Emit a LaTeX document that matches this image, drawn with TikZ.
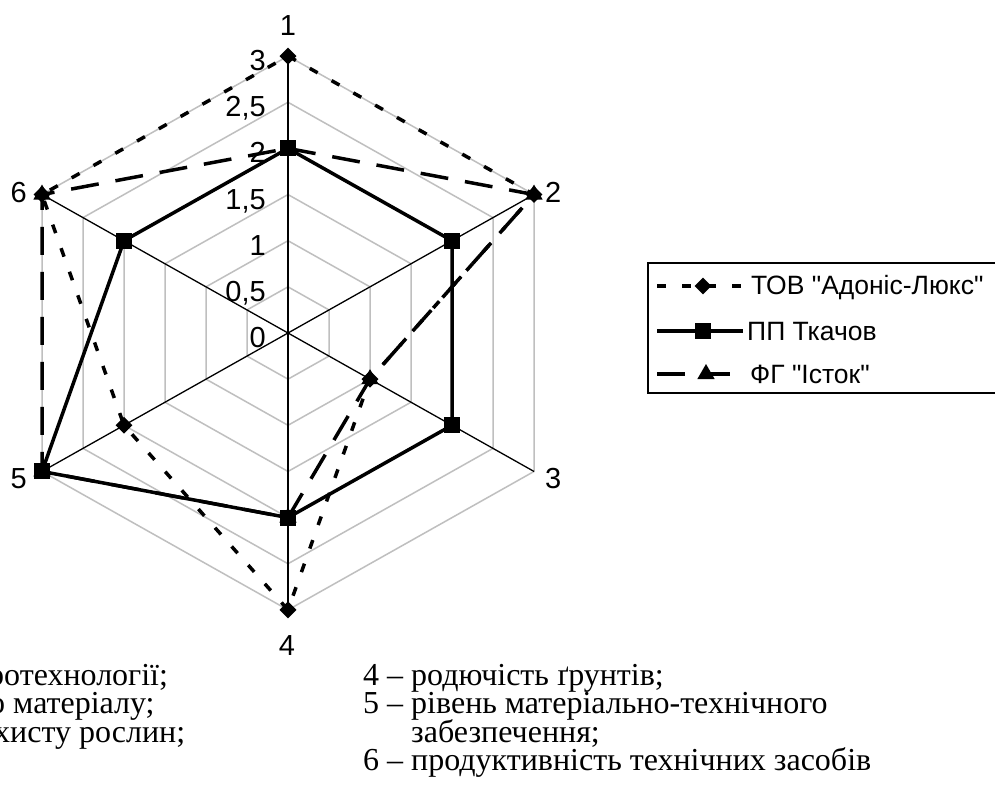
\documentclass[tikz,border=0pt]{standalone}
\usepackage{fontspec}
\setmainfont{Liberation Serif}
\newfontfamily\arialf{Liberation Sans}
\usetikzlibrary{shapes.geometric,calc}
\begin{document}
\begin{tikzpicture}[x=1pt,y=-1pt,
  gridline/.style={draw=black!25, line width=1.5pt},
  axisline/.style={draw=black, line width=1.3pt},
  serA/.style={line width=3.5pt, dash pattern=on 9pt off 16pt},
  serB/.style={line width=3.5pt},
  serC/.style={line width=3.5pt, dash pattern=on 28pt off 17pt},
  mkA/.style={diamond, fill=black, inner sep=0pt, minimum width=17pt, minimum height=17pt},
  mkB/.style={rectangle, fill=black, inner sep=0pt, minimum size=16pt},
  mkC/.style={regular polygon, regular polygon sides=3, fill=black, inner sep=0pt, minimum size=20pt},
  axlab/.style={font=\arialf\fontsize{29}{34}\selectfont, inner sep=0pt},
  vallab/.style={font=\arialf\fontsize{29}{34}\selectfont, inner sep=0pt, anchor=base east},
  leglab/.style={font=\arialf\fontsize{26.5}{30}\selectfont, inner sep=0pt, anchor=base west},
  note/.style={font=\fontsize{32}{30}\selectfont, inner sep=0pt, anchor=base west,
    text height=20pt, text depth=6pt},
]
\useasboundingbox (0,0) rectangle (995,798);
\fill[white] (0,0) rectangle (995,798);

% centre and unit vectors (per unit of value)
\coordinate (O) at (288,333);
\coordinate (u1) at (0,-92.3);
\coordinate (u2) at (82,-46.15);
\coordinate (u3) at (82,46.15);
\coordinate (u4) at (0,92.3);
\coordinate (u5) at (-82,46.15);
\coordinate (u6) at (-82,-46.15);

% grid rings
\foreach \v in {0.5,1,...,3}{
  \draw[gridline] ($(O)+\v*(u1)$) -- ($(O)+\v*(u2)$) -- ($(O)+\v*(u3)$)
    -- ($(O)+\v*(u4)$) -- ($(O)+\v*(u5)$) -- ($(O)+\v*(u6)$) -- cycle;
}

% axis ends and axes
\foreach \k in {1,...,6}{
  \coordinate (E\k) at ($(O)+3*(u\k)$);
  \draw[axisline] (O) -- (E\k);
}

% data points
\foreach \k/\a/\b/\c in {1/3/2/2, 2/3/2/3, 3/1/2/1, 4/3/2/2, 5/2/3/3, 6/3/2/3}{
  \coordinate (A\k) at ($(O)+\a*(u\k)$);
  \coordinate (B\k) at ($(O)+\b*(u\k)$);
  \coordinate (C\k) at ($(O)+\c*(u\k)$);
}

% series lines
\draw[serA] (A1) -- (A2) -- (A3) -- (A4) -- (A5) -- (A6) -- cycle;
\draw[serB] (B1) -- (B2) -- (B3) -- (B4) -- (B5) -- (B6) -- cycle;
\draw[serC] (C1) -- (C2) -- (C3) -- (C4) -- (C5) -- (C6) -- cycle;

% markers
\foreach \k in {1,...,6}{
  \node[mkA] (mA\k) at (A\k) {};
}
\foreach \k in {1,...,6}{
  \node[mkB] (mB\k) at (B\k) {};
}
\foreach \k in {1,...,6}{
  \node[mkC] (mC\k) at (C\k) {};
}

% value labels
\node[vallab] (v0) at (266,347.4) {0};
\node[vallab] (v05) at (266,301.2) {0,5};
\node[vallab] (v10) at (266,255.1) {1};
\node[vallab] (v15) at (266,209) {1,5};
\node[vallab] (v20) at (266,162.8) {2};
\node[vallab] (v25) at (266,116.7) {2,5};
\node[vallab] (v30) at (266,70.5) {3};

% axis labels
\node[axlab, anchor=base] (L1) at (288,35) {1};
\node[axlab, anchor=base west] (L2) at (545,202) {2};
\node[axlab, anchor=base west] (L3) at (545,488) {3};
\node[axlab, anchor=base] (L4) at (287,655) {4};
\node[axlab, anchor=base east] (L5) at (27,488) {5};
\node[axlab, anchor=base east] (L6) at (27,202) {6};

% legend
\draw[line width=1.2pt] (1010,263) -- (648,263) -- (648,393) -- (1010,393);
\coordinate (g1a) at (657,286);
\coordinate (g1b) at (743,286);
\coordinate (g2a) at (657,331);
\coordinate (g2b) at (743,331);
\coordinate (g3a) at (657,374);
\coordinate (g3b) at (743,374);
\draw[serA] (g1a) -- (g1b);
\draw[serB] (g2a) -- (g2b);
\draw[serC] (g3a) -- (g3b);
\node[mkA] (gA) at (703,286) {};
\node[mkB] (gB) at (703,331) {};
\node[mkC] (gC) at (706,374) {};
\node[leglab] (t1) at (751,294) {ТОВ "Адоніс-Люкс"};
\node[leglab] (t2) at (747,340) {ПП Ткачов};
\node[leglab] (t3) at (750,383) {ФГ "Істок"};

% notes below
\node[note] (n1) at (-12,685) {ротехнології;};
\node[note] (n2) at (-11,713.5) {о матеріалу;};
\node[note] (n3) at (-6,742) {хисту рослин;};
\node[note] (n4) at (363,685) {4 – родючість ґрунтів;};
\node[note] (n5) at (363,713.5) {5 – рівень матеріально-технічного};
\node[note] (n6) at (411,742) {забезпечення;};
\node[note] (n7) at (363,770.5) {6 – продуктивність технічних засобів};
\end{tikzpicture}
\end{document}
